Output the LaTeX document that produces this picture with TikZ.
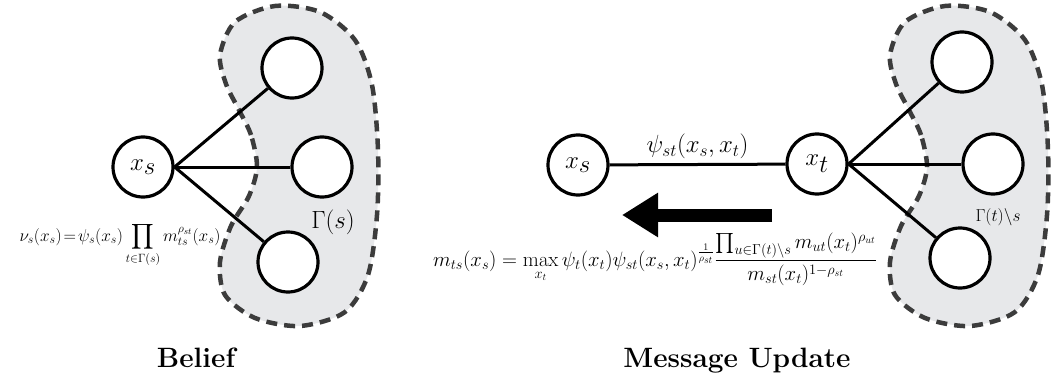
\documentclass[tikz,border=0pt]{standalone}
\usepackage{amsmath}
\usepackage{amssymb}
\usepackage{tikz}
\usetikzlibrary{arrows.meta}

\definecolor{hoodfill}{RGB}{231,232,234}
\definecolor{hooddash}{RGB}{60,60,60}

\tikzset{
  var/.style={circle,draw=black,line width=3.2pt,minimum size=60pt,inner sep=0pt,fill=white,
    font=\fontsize{38}{44}\selectfont},
  link/.style={line width=3pt},
  hood/.style={draw=hooddash,fill=hoodfill,line width=4.5pt,dash pattern=on 11pt off 7pt},
  caption/.style={font=\fontsize{28}{32}\selectfont\bfseries},
}

\begin{document}
\begin{tikzpicture}[x=1pt,y=-1pt]
\useasboundingbox (0,0) rectangle (1051,377);
% neighbourhoods
\foreach \dx in {0,670}
  \draw[hood,shift={(\dx,0)}] plot[smooth cycle] coordinates {(257,167) (251,135) (239,110) (226,84) (220,55)
    (235,22) (275,6) (320,12) (355,40) (372,85) (378,150) (377,215) (368,275) (345,312) (300,326)
    (255,318) (225,295) (220,262) (231,226) (249,196)};
% belief
\node[var] (xs) at (143,167) {$x_s$};
\node[var] (s1) at (292,68) {};
\node[var] (s2) at (322,167) {};
\node[var] (s3) at (288,262) {};
\foreach \n in {s1,s2,s3}
  \draw[link] (xs.east) -- (\n);
\node[font=\fontsize{24}{28}\selectfont] (gs) at (333,222) {$\Gamma(s)$};
\node[anchor=base,inner sep=0pt,font=\fontsize{17.6}{20}\selectfont] (bel) at (120,241)
  {$\displaystyle \nu_s(x_s)\!=\!\psi_s(x_s)\prod_{t\in\Gamma(s)} m_{ts}^{\rho_{st}}(x_s)$};
\node[caption,anchor=base] (cap1) at (196,367) {Belief};
% message update
\node[var] (xs2) at (578,165) {$x_s$};
\node[var] (xt) at (817,164) {$x_t$};
\node[var] (t1) at (962,62) {};
\node[var] (t2) at (993,164) {};
\node[var] (t3) at (960,258) {};
\draw[link] (xs2) -- node[above=1pt,font=\fontsize{24}{28}\selectfont] (psi) {$\psi_{st}(x_s,x_t)$} (xt);
\foreach \n in {t1,t2,t3}
  \draw[link] (xt.east) -- (\n);
\node[font=\fontsize{18.5}{22}\selectfont] (gt) at (998,217) {$\Gamma(t)\backslash s$};
\coordinate (tail) at (772,215);
\coordinate (tip) at (622,215);
\draw[line width=13pt,-{Triangle[length=36pt,width=42pt]}] (tail) -- (tip);
\node[anchor=base,inner sep=0pt,font=\fontsize{20}{24}\selectfont] (msg) at (655,266)
  {$\displaystyle m_{ts}(x_s)=\max_{x_t}\psi_t(x_t)\psi_{st}(x_s,x_t)^{\frac{1}{\rho_{st}}}
   \frac{\prod_{u\in\Gamma(t)\backslash s} m_{ut}(x_t)^{\rho_{ut}}}{m_{st}(x_t)^{1-\rho_{st}}}$};
\node[caption,anchor=base] (cap2) at (737,367) {Message Update};
\end{tikzpicture}
\end{document}
